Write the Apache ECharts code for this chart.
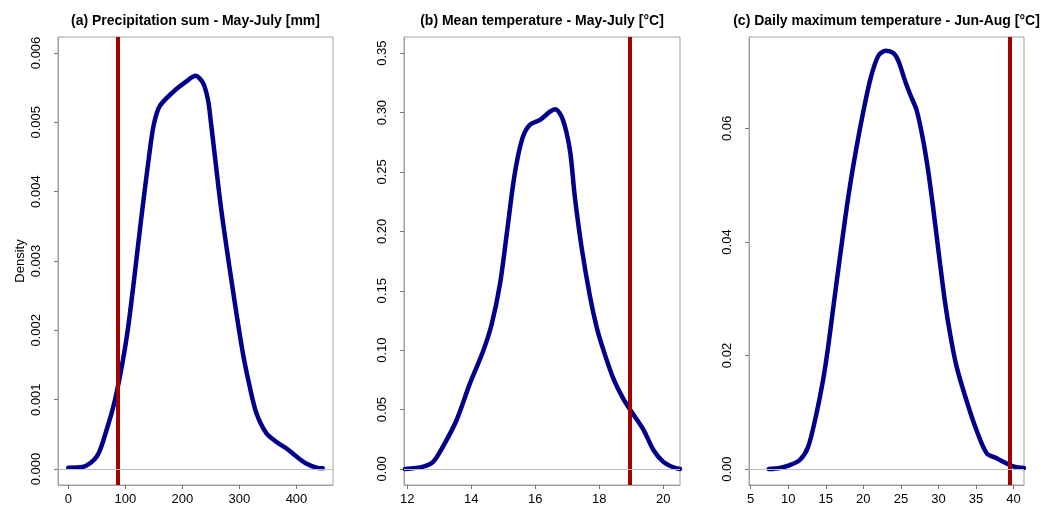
<!DOCTYPE html>
<html lang="en">

<head>
    <meta charset="UTF-8">
    <title>Density plots</title>
    <script src="https://cdn.jsdelivr.net/npm/echarts@6/dist/echarts.min.js"></script>
    <style>
        body { margin: 0; background: #fff; }
        #chart { width: 1040px; height: 506px; }
    </style>
</head>

<body>
    <div id="chart"></div>
    <script>
        // (a) precipitation sum May-July [mm]
        const precipX = [0, 25, 50, 67, 82, 96, 105, 114, 128, 143, 150, 160, 184, 207, 223, 236, 245, 250, 256, 268, 286, 305, 318, 330, 347, 365, 382, 400, 417, 435, 446];
        const precipY = [0.00002, 0.00003, 0.00018, 0.00056, 0.00100, 0.00158, 0.00205, 0.00264, 0.00362, 0.00460, 0.00497, 0.00523, 0.00544, 0.00559, 0.00567, 0.00557, 0.00532, 0.00500, 0.00458, 0.00375, 0.00272, 0.00172, 0.00119, 0.00080, 0.00052, 0.00039, 0.00030, 0.00018, 0.00008, 0.00002, 0.00001];
        // (b) mean temperature May-July [°C]
        const meanTX = [11.93, 12.5, 12.81, 13.12, 13.54, 13.96, 14.37, 14.64, 14.9, 15.11, 15.31, 15.45, 15.62, 15.83, 16.15, 16.46, 16.62, 16.82, 16.98, 17.1, 17.24, 17.45, 17.71, 17.92, 18.13, 18.44, 18.75, 19.01, 19.38, 19.69, 20.0, 20.31, 20.52];
        const meanTY = [0.0, 0.002, 0.006, 0.019, 0.041, 0.072, 0.099, 0.122, 0.156, 0.198, 0.240, 0.262, 0.280, 0.2896, 0.2938, 0.3008, 0.3028, 0.2966, 0.2826, 0.265, 0.228, 0.186, 0.145, 0.119, 0.100, 0.076, 0.059, 0.048, 0.033, 0.016, 0.006, 0.0014, 0.0];
        // (c) daily maximum temperature Jun-Aug [°C]
        const maxTX = [7.4, 8.87, 10.2, 11.53, 12.64, 13.76, 14.64, 15.31, 16.0, 17.0, 18.0, 19.0, 20.0, 21.0, 22.0, 23.0, 24.0, 24.64, 25.53, 26.2, 27.1, 27.97, 28.64, 29.3, 30.0, 30.87, 31.6, 32.43, 33.76, 35.09, 36.43, 37.76, 39.09, 40.2, 41.4];
        const maxTY = [0, 0.0002, 0.0007, 0.0016, 0.0039, 0.0098, 0.0157, 0.0215, 0.0285, 0.0385, 0.0480, 0.0560, 0.0630, 0.0690, 0.0728, 0.0737, 0.0733, 0.0720, 0.0685, 0.0661, 0.0632, 0.0579, 0.0525, 0.0460, 0.0385, 0.0295, 0.0235, 0.0180, 0.0120, 0.0068, 0.0028, 0.0019, 0.0010, 0.0004, 0.0002];

        // observed values (red lines)
        const observed = [86, 18.96, 39.45];

        const titles = ['(a) Precipitation sum - May-July [mm]', '(b) Mean temperature - May-July [°C]', '(c) Daily maximum temperature - Jun-Aug [°C]'];
        const xTicks = [[0, 100, 200, 300, 400], [12, 14, 16, 18, 20], [5, 10, 15, 20, 25, 30, 35, 40]];
        const yTicks = [[0, 0.001, 0.002, 0.003, 0.004, 0.005, 0.006], [0, 0.05, 0.10, 0.15, 0.20, 0.25, 0.30, 0.35], [0, 0.02, 0.04, 0.06]];
        const yDecimals = [3, 2, 2];
        const xRange = [[-18, 464], [11.9, 20.52], [4.77, 41.4]];
        const yRange = [[-0.00023, 0.00623], [-0.0135, 0.3636], [-0.0028, 0.0761]];

        const curves = [[precipX, precipY], [meanTX, meanTY], [maxTX, maxTY]];
        const gridLeft = [58, 404, 749];
        const gridWidth = [275, 276, 275];

        const font = 'Liberation Sans, Arial, sans-serif';
        const boxColor = '#a0a0a0';

        let chart = echarts.init(document.getElementById('chart'));

        let grids = [], xAxes = [], yAxes = [], series = [], title = [];
        for (let i = 0; i < 3; i++) {
            grids.push({
                left: gridLeft[i], top: 37, width: gridWidth[i], height: 448,
                show: true, borderColor: boxColor, borderWidth: 1, backgroundColor: 'transparent'
            });
            title.push({
                text: titles[i],
                left: gridLeft[i] + gridWidth[i] / 2,
                top: 14,
                textAlign: 'center',
                padding: 0,
                textStyle: { fontFamily: font, fontSize: 14, fontWeight: 'bold', color: '#000' }
            });
            xAxes.push({
                type: 'value', gridIndex: i, min: xRange[i][0], max: xRange[i][1],
                splitLine: { show: false },
                axisLine: { show: true, onZero: false, lineStyle: { color: boxColor } },
                axisTick: { show: true, length: 4, customValues: xTicks[i], lineStyle: { color: '#777' } },
                axisLabel: {
                    customValues: xTicks[i], margin: 8,
                    fontFamily: font, fontSize: 13, color: '#000'
                }
            });
            yAxes.push({
                type: 'value', gridIndex: i, min: yRange[i][0], max: yRange[i][1],
                name: i === 0 ? 'Density' : '',
                nameLocation: 'middle', nameGap: 31, nameRotate: 90,
                nameTextStyle: { fontFamily: font, fontSize: 13, color: '#000' },
                splitLine: { show: false },
                axisLine: { show: true, onZero: false, lineStyle: { color: boxColor } },
                axisTick: { show: true, length: 4, customValues: yTicks[i], lineStyle: { color: '#777' } },
                axisLabel: {
                    customValues: yTicks[i], rotate: 90, margin: 15,
                    fontFamily: font, fontSize: 13, color: '#000',
                    formatter: (v => function (val) { return val.toFixed(v); })(yDecimals[i])
                }
            });
            // zero line
            series.push({
                type: 'line', xAxisIndex: i, yAxisIndex: i, data: [], silent: true,
                markLine: {
                    silent: true, symbol: ['none', 'none'], label: { show: false },
                    lineStyle: { color: '#bebebe', width: 1, type: 'solid' },
                    data: [{ yAxis: 0 }]
                }
            });
            // density curve
            series.push({
                type: 'line', xAxisIndex: i, yAxisIndex: i,
                data: curves[i][0].map((x, k) => [x, curves[i][1][k]]),
                smooth: 0.3, showSymbol: false, symbol: 'none',
                lineStyle: { color: '#00008b', width: 4.5, cap: 'round', join: 'round' },
                z: 3
            });
            // observed value
            series.push({
                type: 'line', xAxisIndex: i, yAxisIndex: i, data: [], silent: true, z: 4,
                markLine: {
                    silent: true, symbol: ['none', 'none'], label: { show: false }, z: 4,
                    lineStyle: { color: '#a30000', width: 4, type: 'solid' },
                    data: [{ xAxis: observed[i] }]
                }
            });
        }

        chart.setOption({
            animation: false,
            backgroundColor: '#fff',
            title: title,
            grid: grids,
            xAxis: xAxes,
            yAxis: yAxes,
            series: series
        });
    </script>
</body>

</html>
